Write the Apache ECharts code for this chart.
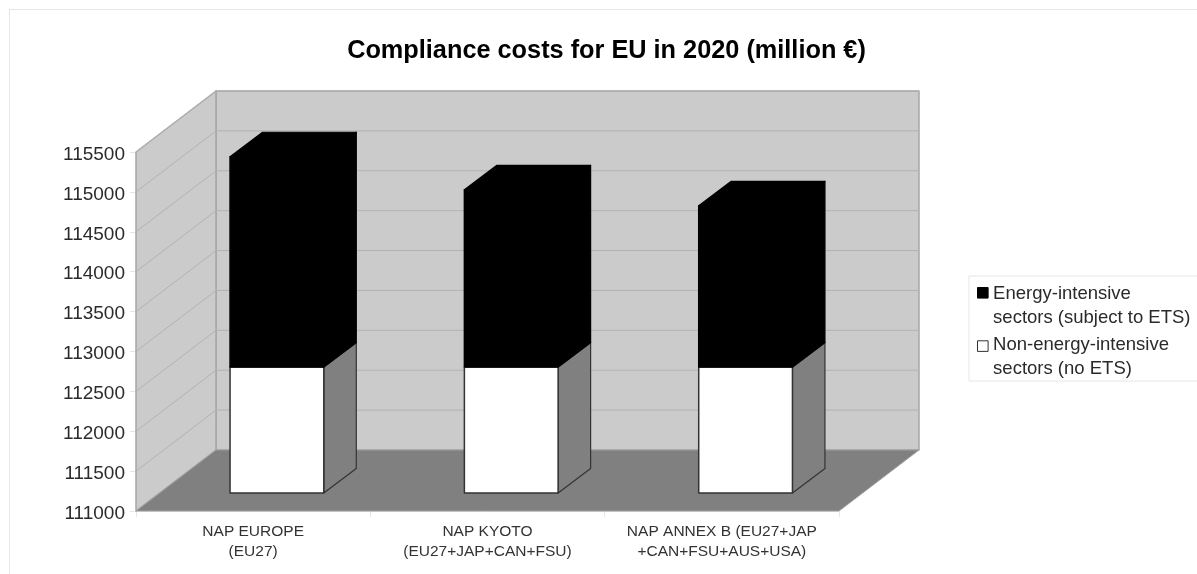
<!DOCTYPE html>
<html>
<head>
<meta charset="utf-8">
<style>
  html, body { margin: 0; padding: 0; background: #fff; overflow: hidden; }
  #frame { position: absolute; left: 9px; top: 9px; right: 0; bottom: 0; border-left: 1px solid #e6e6e6; border-top: 1px solid #e6e6e6; }
  #chart { position: absolute; left: 0; top: 0; width: 1197px; height: 574px; }
</style>
<script src="https://cdn.jsdelivr.net/npm/echarts@6/dist/echarts.min.js"></script>
</head>
<body>
<div id="frame"></div>
<div id="chart"></div>
<script>
// Compliance costs per scenario, in million euro
const categories = [
  'NAP EUROPE\n(EU27)',
  'NAP KYOTO\n(EU27+JAP+CAN+FSU)',
  'NAP ANNEX B (EU27+JAP\n+CAN+FSU+AUS+USA)'
];
const nonEnergySectors = [112580, 112580, 112580];
const energySectors = [2635, 2220, 2020];
const axisMin = 111000;
const axisMax = 115500;
const axisStep = 500;
const axisTicks = [111000, 111500, 112000, 112500, 113000, 113500, 114000, 114500, 115000, 115500];

const nameEnergy = 'Energy-intensive\nsectors (subject to ETS)';
const nameNonEnergy = 'Non-energy-intensive\nsectors (no ETS)';

// Oblique projection of the 3D box: screen offset of the full depth and of the bars
const WALL_DX = 80, WALL_DY = -61;
const BAR_DX = 32.5, BAR_DY = -24.5;
const BAR_SHIFT_X = (WALL_DX - BAR_DX) / 2, BAR_SHIFT_Y = -18;
const BAR_RATIO = 0.4;

// Legend keys: a square beside the first text line of a two-line-tall entry
const keyIcon = (top) => 'path://M0 0h0.01 M0 ' + top + 'h10.6v10.6h-10.6z M0 48h0.01';

function poly(points, fill, stroke, lineWidth) {
  return {
    type: 'polygon',
    shape: { points: points },
    style: { fill: fill, stroke: stroke || fill, lineWidth: lineWidth === undefined ? 1 : lineWidth, lineJoin: 'round' }
  };
}
function seg(a, b, stroke, lineWidth) {
  return {
    type: 'line',
    shape: { x1: a[0], y1: a[1], x2: b[0], y2: b[1] },
    style: { stroke: stroke, lineWidth: lineWidth }
  };
}
const back = (p) => [p[0] + WALL_DX, p[1] + WALL_DY];

// Walls, floor and gridlines of the box
function renderBox(params, api) {
  const tick = api.value(0);
  const lastCat = categories.length - 1;
  const left = api.coord([0, axisMin])[0] - api.size([1, 0])[0] / 2;
  const right = api.coord([lastCat, axisMin])[0] + api.size([1, 0])[0] / 2;
  const yv = api.coord([0, tick])[1];
  const children = [];
  if (params.dataIndex === 0) {
    const yBase = api.coord([0, axisMin])[1];
    const yTop = api.coord([0, axisMax])[1];
    const fl = [left, yBase], fr = [right, yBase], tl = [left, yTop];
    children.push(poly([back(tl), [back(fr)[0], back(tl)[1]], back(fr), back(fl)], '#cbcbcb', '#a6a6a6', 1.5));
    children.push(poly([tl, back(tl), back(fl), fl], '#cbcbcb', '#a6a6a6', 1.5));
    children.push(poly([fl, fr, back(fr), back(fl)], '#808080', '#a0a0a0', 1));
  } else {
    const a = [left, yv];
    children.push(seg(a, back(a), '#b2b2b2', 1));
    children.push(seg(back(a), [right + WALL_DX, yv + WALL_DY], '#b2b2b2', 1));
  }
  return { type: 'group', children: children };
}

// One stacked block of a 3D column
function renderBlock(fill, sideFill, edge) {
  return function (params, api) {
    const from = api.value(1);
    const to = api.value(2);
    const w = api.size([1, 0])[0] * BAR_RATIO;
    const cx = api.coord([api.value(0), from])[0] + BAR_SHIFT_X;
    const yFrom = api.coord([0, from])[1] + BAR_SHIFT_Y;
    const yTo = api.coord([0, to])[1] + BAR_SHIFT_Y;
    const x0 = cx - w / 2, x1 = cx + w / 2;
    const d = (p) => [p[0] + BAR_DX, p[1] + BAR_DY];
    const tl = [x0, yTo], tr = [x1, yTo], bl = [x0, yFrom], br = [x1, yFrom];
    return {
      type: 'group',
      children: [
        poly([br, tr, d(tr), d(br)], sideFill, edge, 1.2),
        poly([tl, tr, d(tr), d(tl)], fill, edge, 1.2),
        poly([tl, tr, br, bl], fill, edge, 1.5)
      ]
    };
  };
}

const nonEnergyBlocks = categories.map((_, i) => [i, axisMin, nonEnergySectors[i]]);
const energyBlocks = categories.map((_, i) => [i, nonEnergySectors[i], nonEnergySectors[i] + energySectors[i]]);

const chart = echarts.init(document.getElementById('chart'), null, { renderer: 'canvas' });
chart.setOption({
  animation: false,
  backgroundColor: 'transparent',
  title: {
    text: 'Compliance costs for EU in 2020 (million €)',
    left: 601.5,
    top: 34,
    textAlign: 'center',
    textStyle: { fontFamily: 'Liberation Sans', fontSize: 25.3, fontWeight: 'bold', color: '#000' }
  },
  grid: { left: 136, right: 358, top: 152, bottom: 63 },
  legend: {
    orient: 'vertical',
    left: 969,
    top: 276,
    padding: [5, 12, 0, 8],
    itemGap: 2,
    itemWidth: 10.6,
    itemHeight: 48,
    borderColor: '#e6e6e6',
    borderWidth: 1,
    selectedMode: false,
    textStyle: { fontFamily: 'Liberation Sans', fontSize: 18.5, lineHeight: 24, color: '#2a2a2a' },
    data: [
      { name: nameEnergy, icon: keyIcon(6), itemStyle: { color: '#000', borderColor: '#000', borderWidth: 1 } },
      { name: nameNonEnergy, icon: keyIcon(8.3), itemStyle: { color: '#fff', borderColor: '#333', borderWidth: 1 } }
    ]
  },
  xAxis: {
    type: 'category',
    data: categories,
    axisLine: { show: true, lineStyle: { color: '#e6e6e6' } },
    axisTick: { show: true, alignWithLabel: false, length: 6, lineStyle: { color: '#e6e6e6' } },
    axisLabel: { fontFamily: 'Liberation Sans', fontSize: 15.5, lineHeight: 20, color: '#333', margin: 11, interval: 0 }
  },
  yAxis: {
    type: 'value',
    min: axisMin,
    max: axisMax,
    interval: axisStep,
    splitLine: { show: false },
    axisLine: { show: true, lineStyle: { color: '#a6a6a6' } },
    axisTick: { show: true, length: 6, lineStyle: { color: '#e6e6e6' } },
    axisLabel: {
      margin: 11,
      formatter: (v) => '{n|' + v + '}',
      rich: { n: { fontFamily: 'Liberation Sans', fontSize: 19, color: '#2a2a2a', lineHeight: 22, padding: [5, 0, 0, 0] } }
    }
  },
  series: [
    { type: 'custom', name: 'box', coordinateSystem: 'cartesian2d', silent: true, z: 1,
      data: axisTicks.map((t) => [t]), encode: { y: 0 }, renderItem: renderBox },
    { type: 'custom', name: nameNonEnergy, coordinateSystem: 'cartesian2d', z: 2,
      itemStyle: { color: '#fff' },
      data: nonEnergyBlocks, encode: { x: 0, y: [1, 2] }, renderItem: renderBlock('#ffffff', '#808080', '#333') },
    { type: 'custom', name: nameEnergy, coordinateSystem: 'cartesian2d', z: 3,
      itemStyle: { color: '#000' },
      data: energyBlocks, encode: { x: 0, y: [1, 2] }, renderItem: renderBlock('#000000', '#000000', '#000') }
  ]
});
</script>
</body>
</html>
